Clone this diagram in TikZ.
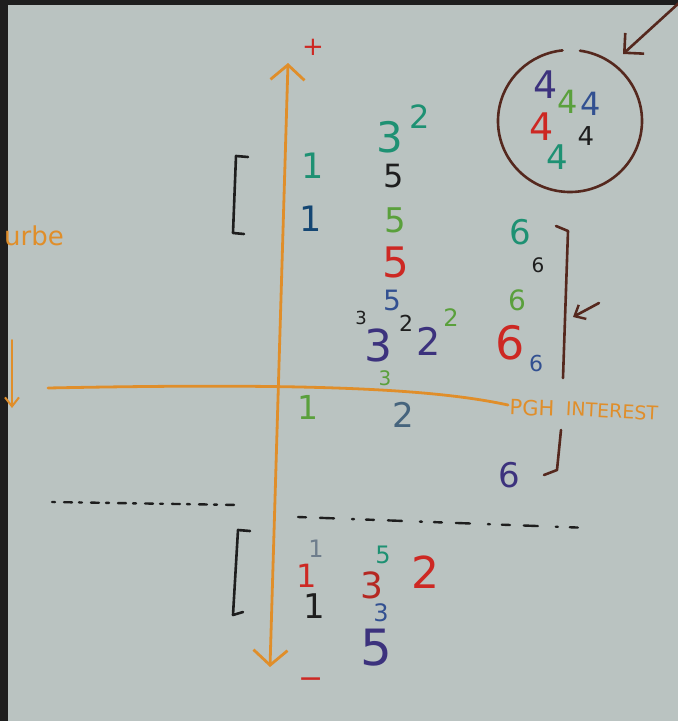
\documentclass[tikz,border=0pt]{standalone}
\usepackage{fontspec}
\setmainfont{DejaVu Sans}
\usetikzlibrary{arrows.meta}
\definecolor{darkbg}{RGB}{30,30,30}
\definecolor{board}{RGB}{186,195,193}
\definecolor{corange}{RGB}{224,142,42}
\definecolor{cteal}{RGB}{30,145,115}
\definecolor{cdblue}{RGB}{20,70,115}
\definecolor{cgreen}{RGB}{90,160,60}
\definecolor{cred}{RGB}{205,40,35}
\definecolor{cblue}{RGB}{50,80,145}
\definecolor{cpurple}{RGB}{60,50,125}
\definecolor{cbrown}{RGB}{85,40,30}
\definecolor{cink}{RGB}{30,30,30}
\definecolor{cgblue}{RGB}{70,100,125}
\definecolor{cgray}{RGB}{110,125,140}
\begin{document}
\begin{tikzpicture}[x=1pt,y=-1pt,
  dig/.style={inner sep=0pt, font=\fontsize{#1}{#1}\selectfont},
  axisline/.style={draw=corange, line width=2.8pt, line cap=round},
  inkline/.style={draw=cink, line width=2.6pt, line cap=round, line join=round},
  brownline/.style={draw=cbrown, line width=2.6pt, line cap=round, line join=round},
  dashline/.style={draw=cink, line width=2.4pt, line cap=round}]
\useasboundingbox (0,0) rectangle (678,721);
\fill[darkbg] (0,0) rectangle (678,721);
\fill[board] (8,5) rectangle (678,721);

% axes
\coordinate (vtop) at (288,63);
\coordinate (vbot) at (270,667);
\draw[axisline, {Straight Barb[length=15pt,width=34pt,line width=2.8pt]}-{Straight Barb[length=15pt,width=34pt,line width=2.8pt]}] (vbot) -- (vtop);
\coordinate (hl) at (48,388);
\coordinate (hr) at (508,405);
\draw[axisline] (hl) .. controls (300,383) and (430,388) .. (hr);
\node[dig=26, text=cred] (plus) at (313,47) {+};
\node[dig=30, text=cred] (minus) at (311,683) {−};

% left side
\node[dig=26, text=corange, anchor=west] (urbe) at (4,236) {urbe};
\coordinate (la1) at (12,340);
\coordinate (la2) at (12,408);
\draw[axisline, line width=2pt, -{Straight Barb[length=9pt,width=14pt,line width=2pt]}] (la1) -- (la2);

% upper left bracket
\coordinate (b1a) at (248,157);
\coordinate (b1b) at (236,156);
\coordinate (b1c) at (233,233);
\coordinate (b1d) at (244,234);
\draw[inkline] (b1a) -- (b1b) -- (b1c) -- (b1d);

% column 1 upper
\node[dig=35, text=cteal] (o1) at (313,166) {1};
\node[dig=35, text=cdblue] (o2) at (311,219) {1};
\node[dig=33, text=cgreen] (o3) at (308,407) {1};

% column 2 upper
\node[dig=42, text=cteal] (t1) at (390,137) {3};
\node[dig=32, text=cteal] (t1s) at (420,117) {2};
\node[dig=32, text=cink] (f1) at (394,176) {5};
\node[dig=34, text=cgreen] (f2) at (395,220) {5};
\node[dig=42, text=cred] (f3) at (396,262) {5};
\node[dig=28, text=cblue] (f4) at (392,300) {5};
\node[dig=18, text=cink] (t2s) at (361,318) {3};
\node[dig=44, text=cpurple] (t2) at (378,345) {3};
\node[dig=22, text=cink] (w1s) at (406,323) {2};
\node[dig=38, text=cpurple] (w1) at (429,341) {2};
\node[dig=24, text=cgreen] (w2s) at (451,318) {2};
\node[dig=20, text=cgreen] (t3) at (385,378) {3};
\node[dig=34, text=cgblue] (w2) at (403,415) {2};

% column 3 (sixes)
\node[dig=34, text=cteal] (s1) at (520,232) {6};
\node[dig=20, text=cink] (s2) at (538,265) {6};
\node[dig=28, text=cgreen] (s3) at (517,300) {6};
\node[dig=46, text=cred] (s4) at (510,343) {6};
\node[dig=22, text=cblue] (s5) at (536,363) {6};
\node[dig=34, text=cpurple] (s6) at (509,475) {6};

% right bracket
\coordinate (r1a) at (556,226);
\coordinate (r1b) at (568,231);
\coordinate (r1c) at (563,378);
\draw[brownline] (r1a) -- (r1b) -- (r1c);
\coordinate (ra1) at (599,303);
\coordinate (ra2) at (573,317);
\draw[brownline, -{Straight Barb[length=9pt,width=16pt,line width=2.4pt]}] (ra1) -- (ra2);

\coordinate (r2a) at (561,430);
\coordinate (r2b) at (557,470);
\coordinate (r2c) at (544,475);
\draw[brownline] (r2a) -- (r2b) -- (r2c);

% PGH INTEREST
\node[dig=21, text=corange, rotate=-2] (pgh) at (532,408) {PGH};
\node[dig=19, text=corange, rotate=-3] (interest) at (612,411) {INTEREST};

% circle of fours
\draw[brownline] ([shift={(-82:72 and 71)}]570,121) arc[start angle=-82, end angle=264, x radius=72, y radius=71];
\node[dig=38, text=cpurple] (q1) at (546,85) {4};
\node[dig=32, text=cgreen] (q2) at (568,102) {4};
\node[dig=32, text=cblue] (q3) at (591,104) {4};
\node[dig=38, text=cred] (q4) at (542,127) {4};
\node[dig=26, text=cink] (q5) at (586,136) {4};
\node[dig=34, text=cteal] (q6) at (557,157) {4};
\coordinate (ca1) at (680,2);
\coordinate (ca2) at (623,54);
\draw[brownline, -{Straight Barb[length=14pt,width=28pt,line width=2.6pt]}] (ca1) -- (ca2);

% dashed separator
\coordinate (d1a) at (52,502);
\coordinate (d1b) at (240,505);
\draw[dashline, dash pattern=on 3pt off 9pt on 8pt off 7pt] (d1a) -- (d1b);
\coordinate (d2a) at (298,517);
\coordinate (d2b) at (590,528);
\draw[dashline, dash pattern=on 8pt off 14pt on 14pt off 18pt on 2pt off 12pt] (d2a) -- (d2b);

% lower bracket
\coordinate (b2a) at (250,531);
\coordinate (b2b) at (238,530);
\coordinate (b2c) at (233,615);
\coordinate (b2d) at (243,612);
\draw[inkline] (b2a) -- (b2b) -- (b2c) -- (b2d);

% lower numbers
\node[dig=24, text=cgray] (l1) at (316,549) {1};
\node[dig=32, text=cred] (l2) at (307,576) {1};
\node[dig=34, text=cink] (l3) at (314,606) {1};
\node[dig=24, text=cteal] (l4) at (383,555) {5};
\node[dig=36, text=cred!80!cbrown] (l5) at (372,585) {3};
\node[dig=24, text=cblue] (l6) at (381,613) {3};
\node[dig=50, text=cpurple] (l7) at (376,648) {5};
\node[dig=44, text=cred] (l8) at (425,572) {2};
\end{tikzpicture}
\end{document}
